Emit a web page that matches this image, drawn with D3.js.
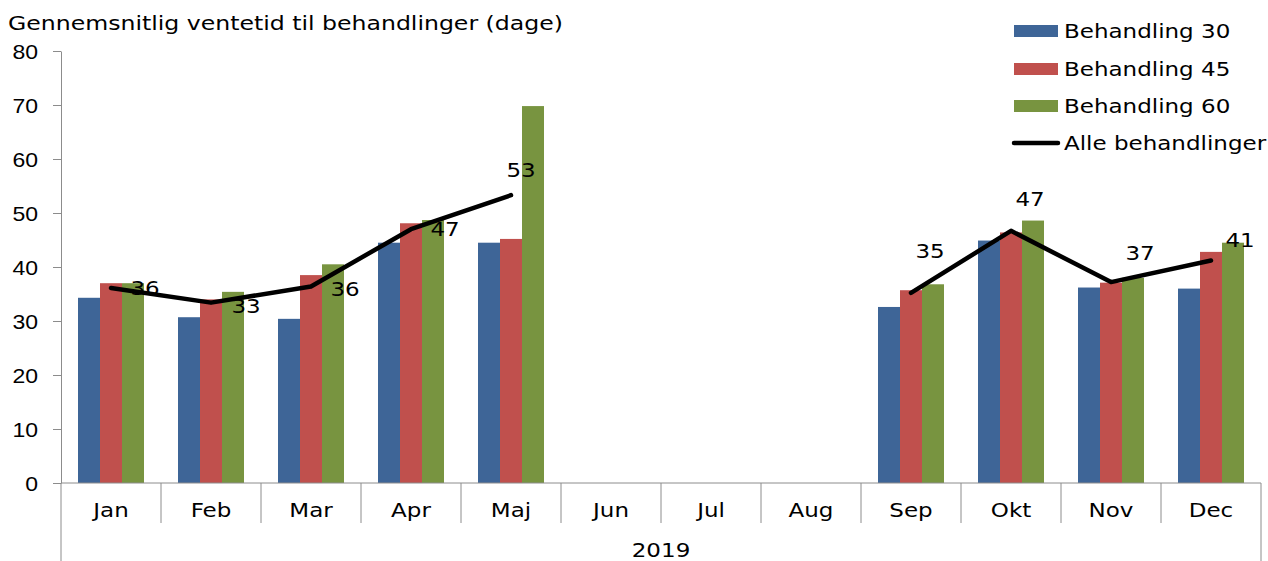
<!DOCTYPE html>
<html>
<head>
<meta charset="utf-8">
<script src="https://cdn.jsdelivr.net/npm/d3@7"></script>
<style>
  html, body { margin: 0; padding: 0; background: #fff; }
  svg { display: block; font-family: "DejaVu Sans", Verdana, sans-serif; }
</style>
</head>
<body>
<svg id="chart" width="1268" height="561"></svg>
<script>
// data
const months = ['Jan', 'Feb', 'Mar', 'Apr', 'Maj', 'Jun', 'Jul', 'Aug', 'Sep', 'Okt', 'Nov', 'Dec'];
const seriesNames = ['Behandling 30', 'Behandling 45', 'Behandling 60'];
const beh30 = [34.3, 30.7, 30.4, 44.5, 44.5, null, null, null, 32.6, 44.9, 36.2, 36.0];
const beh45 = [37.0, 34.0, 38.5, 48.1, 45.2, null, null, null, 35.7, 46.4, 37.1, 42.8];
const beh60 = [37.0, 35.4, 40.5, 48.7, 69.8, null, null, null, 36.8, 48.6, 38.0, 44.5];
const alle = [36.1, 33.4, 36.4, 47.0, 53.3, null, null, null, 35.2, 46.7, 37.2, 41.2];
const lineName = 'Alle behandlinger';
const yTicks = [0, 10, 20, 30, 40, 50, 60, 70, 80];
const yearLabel = '2019';
const title = 'Gennemsnitlig ventetid til behandlinger (dage)';

// label placement for the line values (dx, dy from the point)
const labelOffsets = [
  [34, 0], [35, 3], [34, 2], [34, 0], [10, -25],
  null, null, null,
  [19, -42], [19, -32], [29, -29], [29, -21]
];

const colors = ['#3E6597', '#C0504D', '#789440'];
const seriesValues = [beh30, beh45, beh60];

const svg = d3.select('#chart');
const plotLeft = 61, plotRight = 1261, plotTop = 51, plotBottom = 483;
const fontSize = 20;
const stretch = 1.15;

const x = d3.scaleBand().domain(months).range([plotLeft, plotRight]);
const xInner = d3.scaleBand().domain(seriesNames).range([17, 83]);
const y = d3.scaleLinear().domain([0, 80]).range([plotBottom, plotTop]);

const axisColor = '#8c8c8c';

// text helper: the original font runs a bit wider than DejaVu
function label(parent, px, py, str, anchor, sx) {
  return parent.append('text')
    .attr('transform', `translate(${px},${py}) scale(${sx || stretch},1)`)
    .attr('text-anchor', anchor || 'start')
    .attr('font-size', fontSize)
    .attr('fill', '#000')
    .text(str);
}

// y axis
const yAxis = svg.append('g')
  .attr('transform', `translate(${plotLeft},0)`)
  .call(d3.axisLeft(y).tickValues(yTicks).tickSize(8).tickSizeOuter(0));
yAxis.select('.domain').attr('stroke', axisColor);
yAxis.selectAll('.tick line').attr('stroke', axisColor);
yAxis.selectAll('.tick text').remove();
yAxis.selectAll('.tick').each(function (d) {
  label(d3.select(this), -23, 0, d, 'end').attr('dy', '0.36em');
});

// bars
seriesValues.forEach((vals, si) => {
  svg.append('g')
    .selectAll('rect')
    .data(months.map((m, i) => ({ m, v: vals[i] })).filter(d => d.v != null))
    .join('rect')
    .attr('x', d => x(d.m) + xInner(seriesNames[si]))
    .attr('y', d => y(d.v))
    .attr('width', xInner.bandwidth())
    .attr('height', d => plotBottom - y(d.v))
    .attr('fill', colors[si]);
});

// x axis box
const gx = svg.append('g');
gx.append('line')
  .attr('x1', plotLeft).attr('x2', plotRight)
  .attr('y1', plotBottom).attr('y2', plotBottom)
  .attr('stroke', axisColor);
gx.append('line')
  .attr('x1', plotLeft).attr('x2', plotLeft)
  .attr('y1', plotBottom).attr('y2', 561)
  .attr('stroke', axisColor);
gx.append('line')
  .attr('x1', plotRight).attr('x2', plotRight)
  .attr('y1', plotBottom).attr('y2', 561)
  .attr('stroke', axisColor);
gx.selectAll('.sep')
  .data(months.slice(1))
  .join('line')
  .attr('class', 'sep')
  .attr('x1', d => x(d)).attr('x2', d => x(d))
  .attr('y1', plotBottom).attr('y2', 523)
  .attr('stroke', axisColor);
months.forEach(m => label(gx, x(m) + x.bandwidth() / 2, 517, m, 'middle'));
label(gx, (plotLeft + plotRight) / 2, 557, yearLabel, 'middle');

// line
const pts = months.map((m, i) => ({ m, v: alle[i], i }));
const line = d3.line()
  .defined(d => d.v != null)
  .x(d => x(d.m) + x.bandwidth() / 2)
  .y(d => y(d.v));
svg.append('path')
  .datum(pts)
  .attr('d', line)
  .attr('fill', 'none')
  .attr('stroke', '#000')
  .attr('stroke-width', 4.5)
  .attr('stroke-linejoin', 'round')
  .attr('stroke-linecap', 'round');

const gLab = svg.append('g');
pts.filter(d => d.v != null).forEach(d => {
  label(gLab,
    x(d.m) + x.bandwidth() / 2 + labelOffsets[d.i][0],
    y(d.v) + labelOffsets[d.i][1],
    Math.round(d.v), 'middle').attr('dy', '0.36em');
});

// title
label(svg, 8, 30, title, 'start', 1.18);

// legend
const legend = svg.append('g').attr('transform', 'translate(1014,0)');
const legendRows = [31, 69, 106, 143];
seriesNames.forEach((name, i) => {
  legend.append('rect')
    .attr('x', 0).attr('y', legendRows[i] - 6)
    .attr('width', 44).attr('height', 12)
    .attr('fill', colors[i]);
  label(legend, 50, legendRows[i], name).attr('dy', '0.36em');
});
legend.append('line')
  .attr('x1', 0).attr('x2', 44)
  .attr('y1', legendRows[3]).attr('y2', legendRows[3])
  .attr('stroke', '#000').attr('stroke-width', 4.5)
  .attr('stroke-linecap', 'round');
label(legend, 50, legendRows[3], lineName).attr('dy', '0.36em');
</script>
</body>
</html>
